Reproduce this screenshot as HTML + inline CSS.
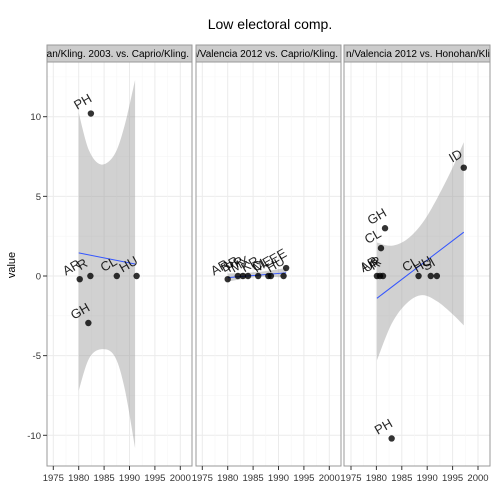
<!DOCTYPE html>
<html><head><meta charset="utf-8"><style>
html,body{margin:0;padding:0;background:#fff}
svg{display:block;font-family:"Liberation Sans",Arial,sans-serif}
</style></head><body>
<svg id="chart" width="504" height="504" viewBox="0 0 504 504">
<text x="270" y="29" font-size="14" text-anchor="middle">Low electoral comp.</text>
<text transform="translate(15,265) rotate(-90)" font-size="11" text-anchor="middle">value</text>
<g id="panels"></g>
</svg>
<script>
const yTicks=[10,5,0,-5,-10];
const xTicks=[1975,1980,1985,1990,1995,2000];
const stripLabels=["han/Kling. 2003. vs. Caprio/Kling.","n/Valencia 2012 vs. Caprio/Kling.","n/Valencia 2012 vs. Honohan/Kling"];
// panel 1
const p1Years=[1980.2,1982.3,1982.4,1981.9,1987.5,1991.4];
const p1Values=[-0.2,0,10.2,-2.95,0,0];
const p1Labels=["AR","R","PH","GH","CL","HU"];
const p1Fit=[[1980,1.45],[1991.1,0.75]];
const p1BandYears=[1980,1982,1984.4,1987,1989,1991.1];
const p1Upper=[10.25,7.9,7.0,7.6,9.4,12.3];
const p1Lower=[-7.2,-5.2,-4.6,-5.0,-7.0,-10.8];
// panel 2
const p2Years=[1980,1982,1983,1984,1986,1988,1988.5,1991,1991.5];
const p2Values=[-0.2,0,0,0,0,0,0,0,0.5];
const p2Labels=["AR","BR","PR","MX","KR","CL","ME","HU","EE"];
const p2Fit=[[1980,-0.1],[1991.5,0.2]];
const p2BandYears=[1980,1986,1991.5];
const p2Upper=[0.15,0.25,0.5];
const p2Lower=[-0.35,-0.05,-0.1];
// panel 3
const p3Years=[1980.1,1980.7,1981.3,1980.9,1981.7,1988.3,1990.7,1991.9,1997.2,1983];
const p3Values=[0,0,0,1.75,3.0,0,0,0,6.8,-10.2];
const p3Labels=["AR","UR","R","CL","GH","CL","HU","SI","ID","PH"];
const p3Fit=[[1980.1,-1.4],[1997.2,2.75]];
const p3BandYears=[1980.1,1983,1986,1989,1992,1995,1997.2];
const p3Upper=[2.1,1.9,2.3,3.3,4.9,6.8,8.4];
const p3Lower=[-5.3,-3.0,-1.7,-1.2,-1.6,-2.4,-3.1];

const panels=[
 {x0:47,x1:192,ax:53.3,years:p1Years,vals:p1Values,labs:p1Labels,fit:p1Fit,by:p1BandYears,up:p1Upper,lo:p1Lower},
 {x0:196,x1:341,ax:202.3,years:p2Years,vals:p2Values,labs:p2Labels,fit:p2Fit,by:p2BandYears,up:p2Upper,lo:p2Lower},
 {x0:344,x1:490,ax:351,years:p3Years,vals:p3Values,labs:p3Labels,fit:p3Fit,by:p3BandYears,up:p3Upper,lo:p3Lower}
];
const NS="http://www.w3.org/2000/svg";
const plotTop=62,plotBot=466,ppy=5.08;
function yS(v){return 276-v*15.93;}
function mk(tag,attrs,parent){const e=document.createElementNS(NS,tag);for(const k in attrs)e.setAttribute(k,attrs[k]);parent.appendChild(e);return e;}
function smooth(pts){let d="M"+pts[0][0]+","+pts[0][1];for(let i=1;i<pts.length;i++){const p0=pts[Math.max(0,i-2)],p1=pts[i-1],p2=pts[i],p3=pts[Math.min(pts.length-1,i+1)];const c1=[p1[0]+(p2[0]-p0[0])/6,p1[1]+(p2[1]-p0[1])/6],c2=[p2[0]-(p3[0]-p1[0])/6,p2[1]-(p3[1]-p1[1])/6];d+=" C"+c1+" "+c2+" "+p2;}return d;}
const root=document.getElementById('panels');
panels.forEach((p,i)=>{
 const xS=y=>p.ax+(y-1975)*ppy;
 const g=mk('g',{},root);
 
 
 const cid='clip'+i;
 const cp=mk('clipPath',{id:cid},g);mk('rect',{x:p.x0,y:plotTop,width:p.x1-p.x0,height:plotBot-plotTop},cp);
 const scp=mk('clipPath',{id:'s'+cid},g);mk('rect',{x:p.x0,y:45,width:p.x1-p.x0,height:17},scp);
 mk('rect',{x:p.x0,y:plotTop,width:p.x1-p.x0,height:plotBot-plotTop,fill:'#fff'},g);
 for(let v=-12.5;v<=12.5;v+=2.5){const major=(v%5===0);mk('line',{x1:p.x0,x2:p.x1,y1:yS(v),y2:yS(v),stroke:major?'#ebebeb':'#f6f6f6','stroke-width':major?1:0.6},g);}
 for(let yr=1972.5;yr<=2002.5;yr+=2.5){const major=(yr%5===0);const x=xS(yr);if(x<p.x0||x>p.x1)continue;mk('line',{x1:x,x2:x,y1:plotTop,y2:plotBot,stroke:major?'#ebebeb':'#f6f6f6','stroke-width':major?1:0.6},g);}
 const pg=mk('g',{'clip-path':'url(#'+cid+')'},g);
 const upPts=p.by.map((yr,j)=>[xS(yr),yS(p.up[j])]);
 const loPts=p.by.map((yr,j)=>[xS(yr),yS(p.lo[j])]).reverse();
 const loPath=smooth(loPts);
 const band=mk('path',{d:smooth(upPts)+" L"+loPts[0][0]+","+loPts[0][1]+" "+loPath.substring(loPath.indexOf("C"))+" Z",fill:'#999','fill-opacity':0.45},pg);
 
 
 const fl=mk('line',{x1:xS(p.fit[0][0]),y1:yS(p.fit[0][1]),x2:xS(p.fit[1][0]),y2:yS(p.fit[1][1]),stroke:'#3355ff','stroke-width':1},pg);
 
 
 p.years.forEach((yr,j)=>{
  const cx=xS(yr),cy=yS(p.vals[j]);
  const c=mk('circle',{cx:cx,cy:cy,r:3.2,fill:'#000','fill-opacity':0.8},pg);
  
  
  const t=mk('text',{x:cx-6,y:cy-8,'font-size':13,'text-anchor':'middle',transform:'rotate(-30 '+(cx-6)+' '+(cy-8)+')',fill:'#000','fill-opacity':0.85},pg);
  t.textContent=p.labs[j];
  
  
 });
 mk('rect',{x:p.x0,y:plotTop,width:p.x1-p.x0,height:plotBot-plotTop,fill:'none',stroke:'#999','stroke-width':1},g);
 mk('rect',{x:p.x0,y:45,width:p.x1-p.x0,height:17,fill:'#ccc',stroke:'#999','stroke-width':1},g);
 const st=mk('text',{x:i==2?p.x0+2:p.x1-3,y:57,'font-size':10,'text-anchor':i==2?'start':'end','clip-path':'url(#s'+cid+')'},g);
 st.textContent=stripLabels[i];
 
 
 xTicks.forEach(yr=>{const x=xS(yr);mk('line',{x1:x,x2:x,y1:plotBot,y2:plotBot+4,stroke:'#333'},g);
  const t=mk('text',{x:x,y:plotBot+15,'font-size':9.5,'text-anchor':'middle',fill:'#333'},g);t.textContent=yr;
  
  });
});
yTicks.forEach(v=>{mk('line',{x1:43,x2:47,y1:yS(v),y2:yS(v),stroke:'#333'},root);
 const t=mk('text',{x:41,y:yS(v)+3.5,'font-size':9.5,'text-anchor':'end',fill:'#333'},root);t.textContent=v;
 
 });
</script>
</body></html>
